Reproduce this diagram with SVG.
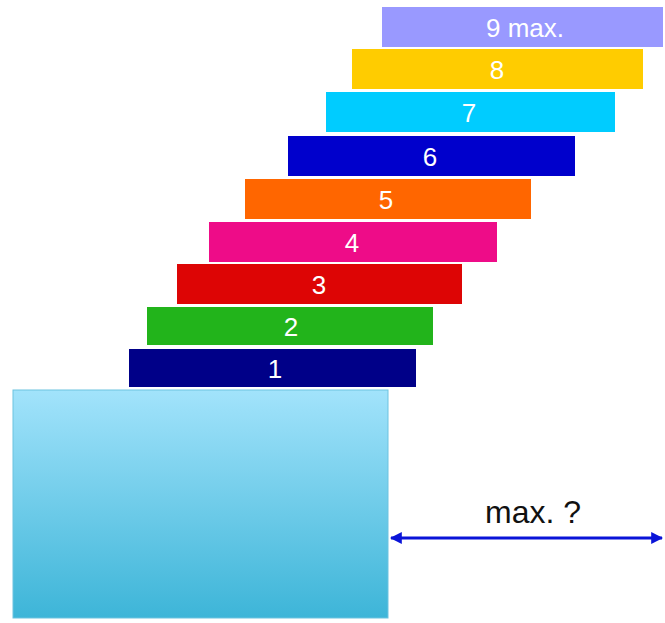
<svg xmlns="http://www.w3.org/2000/svg" width="665" height="623" viewBox="0 0 665 623">
<defs>
<linearGradient id="g" x1="0" y1="0" x2="0" y2="1">
<stop offset="0" stop-color="#a2e3fb"/>
<stop offset="1" stop-color="#3db5d8"/>
</linearGradient>
<marker id="ah" viewBox="0 0 10 10" refX="9" refY="5" markerWidth="4" markerHeight="4" orient="auto-start-reverse">
<path d="M0,0 L10,5 L0,10 z" fill="#0a14d8"/>
</marker>
</defs>
<style>
.lbl{font-family:"Liberation Sans",Arial,sans-serif;font-size:26px;fill:#fff;text-anchor:middle}
.t{font-family:"Liberation Sans",Arial,sans-serif;font-size:32px;fill:#111;text-anchor:middle}
</style>
<rect width="665" height="623" fill="#fff"/>
<g id="box"><rect x="13" y="390" width="375" height="228" fill="url(#g)" stroke="#6cc3e0" stroke-width="1"/></g>
<g id="bar1"><rect x="129" y="349" width="287" height="38" fill="#000088"/><text class="lbl" x="275" y="378">1</text></g>
<g id="bar2"><rect x="147" y="307" width="286" height="38" fill="#22b41b"/><text class="lbl" x="291" y="336">2</text></g>
<g id="bar3"><rect x="177" y="264" width="285" height="40" fill="#dd0505"/><text class="lbl" x="319" y="294">3</text></g>
<g id="bar4"><rect x="209" y="222" width="288" height="40" fill="#ee0c88"/><text class="lbl" x="352" y="252">4</text></g>
<g id="bar5"><rect x="245" y="179" width="286" height="40" fill="#ff6600"/><text class="lbl" x="386" y="209">5</text></g>
<g id="bar6"><rect x="288" y="136" width="287" height="40" fill="#0000cc"/><text class="lbl" x="430" y="166">6</text></g>
<g id="bar7"><rect x="326" y="92" width="289" height="40" fill="#00ccff"/><text class="lbl" x="469" y="122">7</text></g>
<g id="bar8"><rect x="352" y="49" width="291" height="40" fill="#ffcc00"/><text class="lbl" x="497" y="79">8</text></g>
<g id="bar9"><rect x="382" y="7" width="281" height="40" fill="#9999ff"/><text class="lbl" x="525" y="37">9 max.</text></g>
<g id="connectors">
<line x1="391" y1="538" x2="662" y2="538" stroke="#0a14d8" stroke-width="3" marker-start="url(#ah)" marker-end="url(#ah)"/>
</g>
<text class="t" x="533" y="523">max. ?</text>
</svg>
